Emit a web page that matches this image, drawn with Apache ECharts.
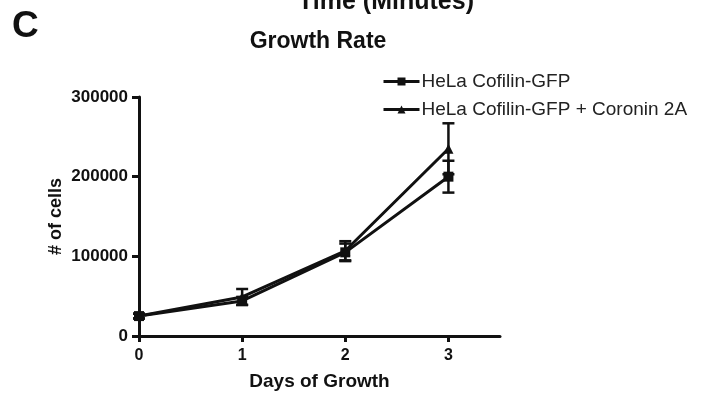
<!DOCTYPE html>
<html><head><meta charset="utf-8">
<script src="https://cdn.jsdelivr.net/npm/echarts@6/dist/echarts.min.js"></script>
<style>html,body{margin:0;padding:0;background:#fff}#c{width:701px;height:396px}</style>
</head><body><div id="c"></div>
<script>
const days = [0, 1, 2, 3];
const xTicks = [0, 1, 2, 3];
const seriesNames = ['HeLa Cofilin-GFP', 'HeLa Cofilin-GFP + Coronin 2A'];
const cofilin = [25000, 44000, 105000, 200000];
const cofilinErr = [3000, 5000, 11000, 20000];
const coronin = [25000, 49000, 107000, 235000];
const coroninErr = [3000, 10000, 12000, 32000];

const F = 'Liberation Sans, Arial, Helvetica, sans-serif';
const chart = echarts.init(document.getElementById('c'));

function errSeries(vals, errs, name) {
  return {
    type: 'custom', name: name, silent: true, z: 1,
    data: days.map((d, i) => [d, vals[i] - errs[i], vals[i] + errs[i]]),
    renderItem: function (params, api) {
      const lo = api.coord([api.value(0), api.value(1)]);
      const hi = api.coord([api.value(0), api.value(2)]);
      const w = 6;
      const st = { stroke: '#111', lineWidth: 2.5 };
      return { type: 'group', children: [
        { type: 'line', shape: { x1: lo[0], y1: lo[1], x2: hi[0], y2: hi[1] }, style: st },
        { type: 'line', shape: { x1: hi[0] - w, y1: hi[1], x2: hi[0] + w, y2: hi[1] }, style: st },
        { type: 'line', shape: { x1: lo[0] - w, y1: lo[1], x2: lo[0] + w, y2: lo[1] }, style: st }
      ]};
    }
  };
}

chart.setOption({
  animation: false,
  backgroundColor: '#fff',
  graphic: [
    { type: 'text', x: 12, y: 27, style: { text: 'C', font: 'bold 37px ' + F, fill: '#111', verticalAlign: 'middle' } },
    { type: 'text', x: 386, y: 15, style: { text: 'Time (Minutes)', font: 'bold 25px ' + F, fill: '#111', align: 'center', verticalAlign: 'bottom' } }
  ],
  title: { text: 'Growth Rate', left: 318, textAlign: 'center', top: 30, padding: 0,
    textStyle: { fontFamily: F, fontSize: 23, fontWeight: 'bold', color: '#111' } },
  legend: {
    orient: 'vertical', left: 382, top: 72, padding: 0, itemWidth: 36, itemHeight: 10, itemGap: 9,
    lineStyle: { width: 3, color: '#111' },
    textStyle: { fontFamily: F, fontSize: 19, color: '#222', padding: [0, 0, 0, -3] },
    data: seriesNames
  },
  grid: { left: 139, right: 201, top: 97, bottom: 60 },
  xAxis: {
    type: 'value', min: 0, max: 3.5,
    name: 'Days of Growth', nameLocation: 'middle', nameGap: 36,
    nameTextStyle: { fontFamily: F, fontSize: 19, fontWeight: 'bold', color: '#111' },
    axisLine: { onZero: false, lineStyle: { color: '#111', width: 3 } },
    axisTick: { length: 6, lineStyle: { color: '#111', width: 3 }, customValues: xTicks },
    axisLabel: { customValues: xTicks, fontFamily: F, fontSize: 16, fontWeight: 'bold', color: '#111', margin: 12 },
    splitLine: { show: false }
  },
  yAxis: {
    type: 'value', min: 0, max: 300000, interval: 100000,
    name: '# of cells', nameLocation: 'middle', nameGap: 74, nameRotate: 90, nameMoveOverlap: false,
    nameTextStyle: { fontFamily: F, fontSize: 18, fontWeight: 'bold', color: '#111' },
    axisLine: { show: true, lineStyle: { color: '#111', width: 3 } },
    axisTick: { show: true, length: 7, lineStyle: { color: '#111', width: 3 } },
    axisLabel: { fontFamily: F, fontSize: 17, fontWeight: 'bold', color: '#111', margin: 11,
      formatter: v => String(v) },
    splitLine: { show: false }
  },
  series: [
    errSeries(cofilin, cofilinErr, 'err1'),
    errSeries(coronin, coroninErr, 'err2'),
    { type: 'line', name: seriesNames[0], data: days.map((d, i) => [d, cofilin[i]]),
      symbol: 'rect', symbolSize: 10, lineStyle: { color: '#111', width: 3 },
      itemStyle: { color: '#111' }, z: 3 },
    { type: 'line', name: seriesNames[1], data: days.map((d, i) => [d, coronin[i]]),
      symbol: 'triangle', symbolSize: 10, lineStyle: { color: '#111', width: 3 },
      itemStyle: { color: '#111' }, z: 3 }
  ]
});
</script></body></html>
